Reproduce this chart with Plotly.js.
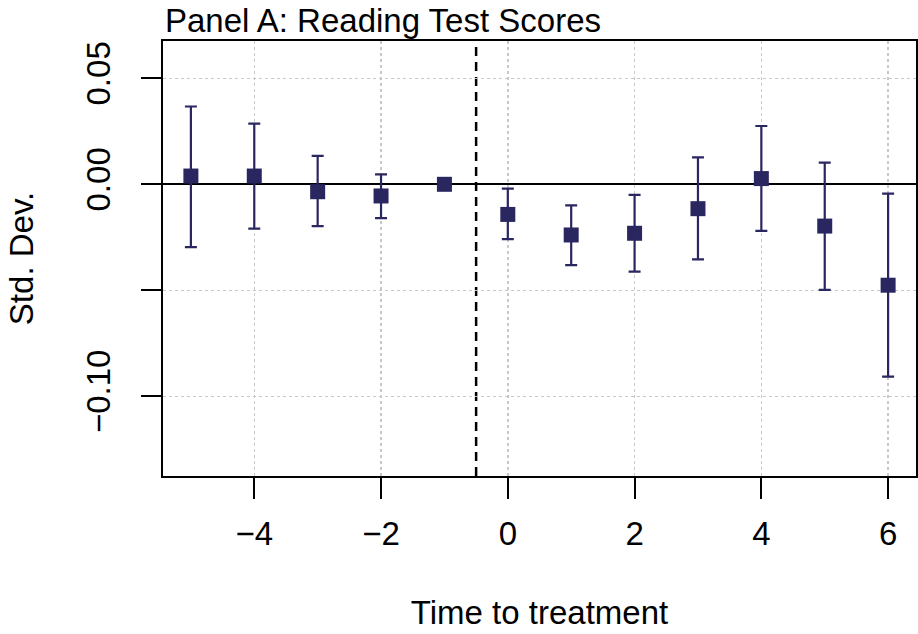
<!DOCTYPE html>
<html>
<head>
<meta charset="utf-8">
<script src="https://cdn.plot.ly/plotly-3.0.1.min.js"></script>
<style>html,body{margin:0;padding:0;background:#fff;}#chart{width:918px;height:634px;}</style>
</head>
<body>
<div id="chart"></div>
<script>
// Event time relative to treatment
const timeToTreatment = [-5, -4, -3, -2, -1, 0, 1, 2, 3, 4, 5, 6];
// Point estimates (Std. Dev.)
const estimate = [0.0039, 0.0039, -0.0035, -0.0055, 0.0, -0.0142, -0.0239, -0.0231, -0.0115, 0.0027, -0.0197, -0.0476];
// Confidence interval bounds
const ciUpper = [0.0367, 0.0286, 0.0134, 0.0047, 0.0, -0.0020, -0.0099, -0.0050, 0.0127, 0.0275, 0.0102, -0.0044];
const ciLower = [-0.0296, -0.0209, -0.0197, -0.0160, 0.0, -0.0259, -0.0381, -0.0412, -0.0354, -0.0220, -0.0498, -0.0907];
// Tick labels
const xTickVals = [-4, -2, 0, 2, 4, 6];
const xTickText = ['\u22124', '\u22122', '0', '2', '4', '6'];
const yTickVals = [-0.10, -0.05, 0.00, 0.05];
const yTickText = ['\u22120.10', '', '0.00', '0.05'];

const errPlus = estimate.map((v, i) => ciUpper[i] - v);
const errMinus = estimate.map((v, i) => v - ciLower[i]);
const hasBar = estimate.map((v, i) => ciUpper[i] !== ciLower[i]);

const navy = '#2a2660';
const font = 'Liberation Sans, Arial, sans-serif';

const trace = {
  type: 'scatter',
  mode: 'markers',
  x: timeToTreatment,
  y: estimate,
  marker: {symbol: 'square', size: 15, color: navy},
  error_y: {
    type: 'data', symmetric: false,
    array: errPlus.map((e, i) => hasBar[i] ? e : 0),
    arrayminus: errMinus.map((e, i) => hasBar[i] ? e : 0),
    color: navy, thickness: 2.2, width: 6
  },
  showlegend: false,
  hoverinfo: 'x+y'
};

const layout = {
  width: 918, height: 634,
  margin: {l: 163, r: 2, t: 41, b: 158},
  paper_bgcolor: '#fff', plot_bgcolor: '#fff',
  font: {family: font, size: 33, color: '#000'},
  title: {text: 'Panel A: Reading Test Scores', x: 165 / 918, xref: 'container', xanchor: 'left', y: 1 - 20 / 634, yref: 'container', yanchor: 'middle', font: {family: font, size: 33, color: '#000'}},
  xaxis: {
    range: [-5.44, 6.44], tickvals: xTickVals, ticktext: xTickText,
    showgrid: true, gridcolor: '#c8c8c8', griddash: 'dot', gridwidth: 1.5,
    zeroline: false, showline: true, linecolor: '#000', linewidth: 2, mirror: true,
    ticks: 'outside', ticklen: 21, tickwidth: 2, tickcolor: '#000',
    ticklabelstandoff: 6,
    tickfont: {family: font, size: 33, color: '#000'},
    title: {text: 'Time to treatment', font: {family: font, size: 33, color: '#000'}, standoff: 50}
  },
  yaxis: {
    range: [-0.1376, 0.0676], tickvals: yTickVals, ticktext: yTickText, tickangle: -90,
    showgrid: true, gridcolor: '#c8c8c8', griddash: 'dot', gridwidth: 1.5,
    zeroline: true, zerolinecolor: '#000', zerolinewidth: 2,
    showline: true, linecolor: '#000', linewidth: 2, mirror: true,
    ticks: 'outside', ticklen: 20, tickwidth: 2, tickcolor: '#000',
    ticklabelstandoff: 18,
    tickfont: {family: font, size: 33, color: '#000'},
    title: {text: 'Std. Dev.', font: {family: font, size: 33, color: '#000'}, standoff: 36}
  },
  shapes: [
    {type: 'line', xref: 'x', x0: -0.5, x1: -0.5, yref: 'paper', y0: 0, y1: 1, line: {color: '#000', width: 2.5, dash: '9px,6px'}, layer: 'below'}
  ]
};

Plotly.newPlot('chart', [trace], layout, {displayModeBar: false, staticPlot: true});
</script>
</body>
</html>
